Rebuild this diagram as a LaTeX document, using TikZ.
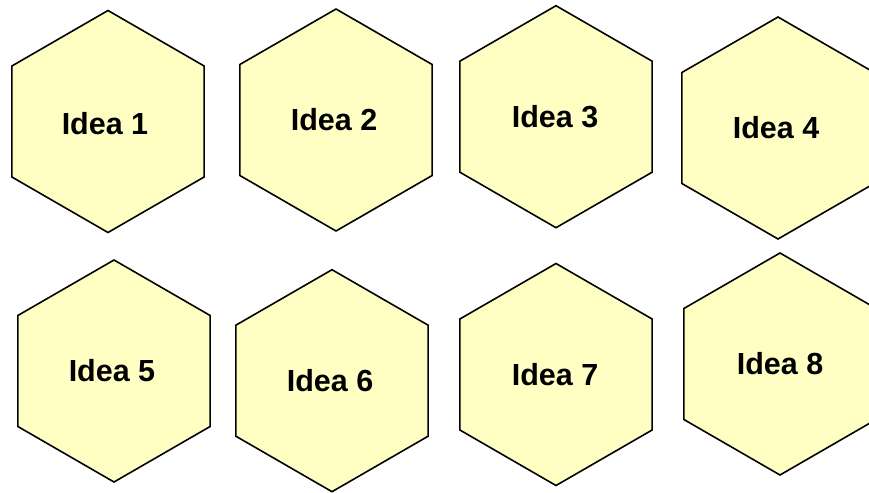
\documentclass[tikz,border=0pt]{standalone}
\usepackage{fontspec}
\setmainfont{Liberation Sans}
\usetikzlibrary{shapes.geometric}
\definecolor{hexfill}{RGB}{255,255,196}
\tikzset{
  hexbox/.style={regular polygon, regular polygon sides=6, regular polygon rotate=30,
    minimum size=222pt, inner sep=0pt, outer sep=0pt, draw=black, line width=1.6pt,
    fill=hexfill},
  hexlabel/.style={font=\fontsize{30.5}{35}\selectfont\bfseries, inner sep=0pt}
}
\begin{document}
\begin{tikzpicture}[x=1pt,y=-1pt]
\useasboundingbox (0,0) rectangle (869,492);
\node[hexbox] (i1) at (108,121.5) {};
\node[hexbox] (i2) at (336,120) {};
\node[hexbox] (i3) at (556,116.7) {};
\node[hexbox] (i4) at (778,128) {};
\node[hexbox] (i5) at (114,371) {};
\node[hexbox] (i6) at (332,380.7) {};
\node[hexbox] (i7) at (556,374.5) {};
\node[hexbox] (i8) at (780,364) {};
\node[hexlabel] (t1) at ([xshift=-3pt,yshift=-2pt]i1.center) {Idea 1};
\node[hexlabel] (t2) at ([xshift=-2pt]i2.center) {Idea 2};
\node[hexlabel] (t3) at ([xshift=-1pt]i3.center) {Idea 3};
\node[hexlabel] (t4) at ([xshift=-2pt]i4.center) {Idea 4};
\node[hexlabel] (t5) at ([xshift=-2pt]i5.center) {Idea 5};
\node[hexlabel] (t6) at ([xshift=-2pt]i6.center) {Idea 6};
\node[hexlabel] (t7) at ([xshift=-1pt]i7.center) {Idea 7};
\node[hexlabel] (t8) at (i8.center) {Idea 8};
\end{tikzpicture}
\end{document}
